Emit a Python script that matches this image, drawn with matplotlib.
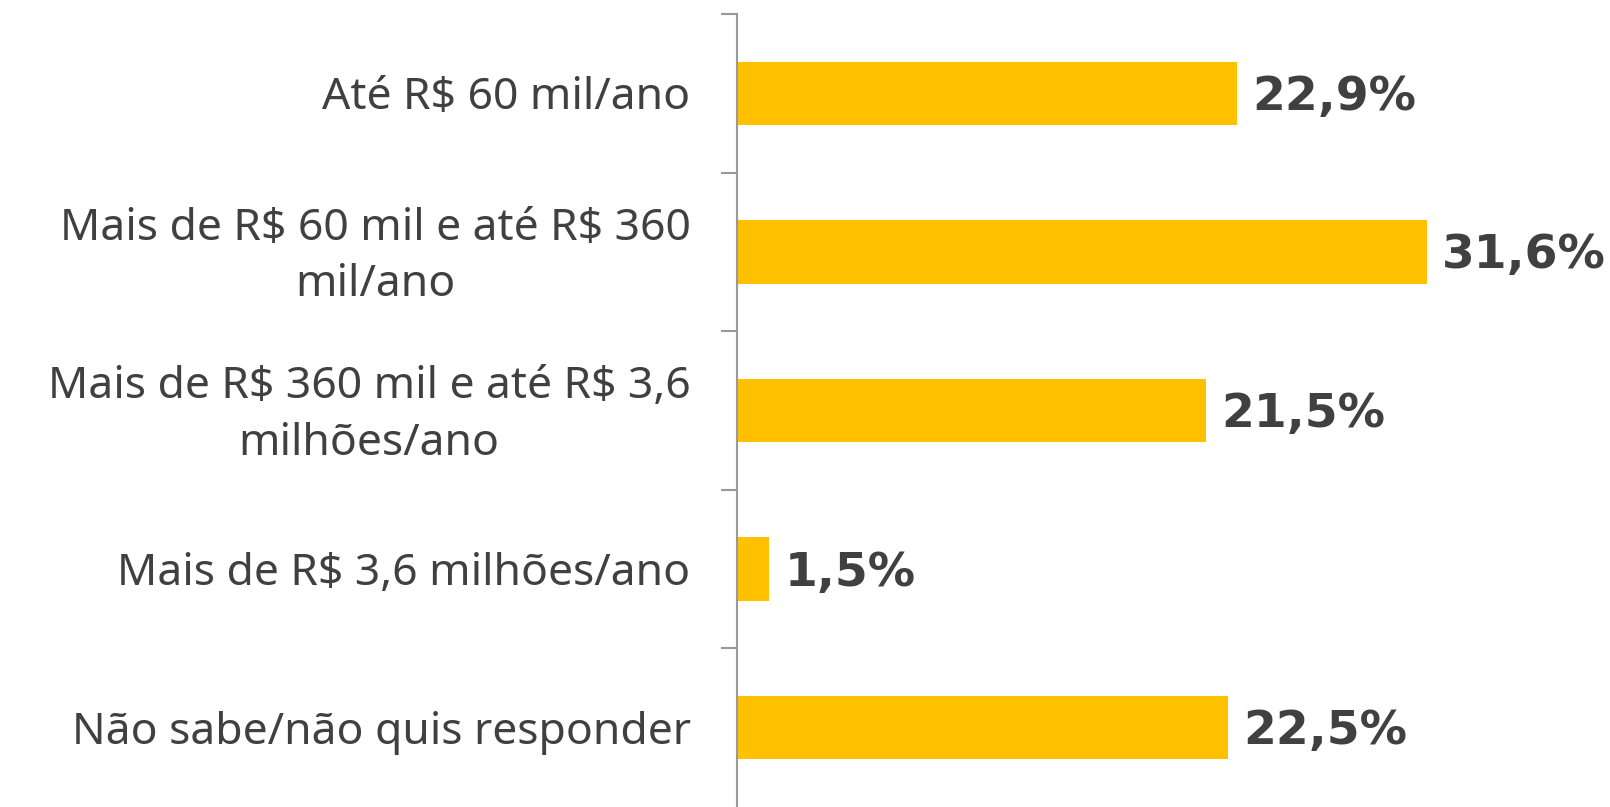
import matplotlib.pyplot as plt
import matplotlib.transforms as mtransforms
import numpy as np

plt.rcParams["text.parse_math"] = False

categories = [
    "Até R$ 60 mil/ano",
    "Mais de R$ 60 mil e até R$ 360\nmil/ano",
    "Mais de R$ 360 mil e até R$ 3,6\nmilhões/ano",
    "Mais de R$ 3,6 milhões/ano",
    "Não sabe/não quis responder",
]
values = [22.9, 31.6, 21.5, 1.5, 22.5]
value_labels = ["22,9%", "31,6%", "21,5%", "1,5%", "22,5%"]

text_color = "#404040"

fig = plt.figure(figsize=(16.1, 8.07), dpi=100)
ax = fig.add_axes([736.5 / 1610, 0, 873.5 / 1610, 793 / 807])

y = np.arange(len(categories))
ax.barh(y, values, height=0.40, color="#FFC000")

for yi, v, lab in zip(y, values, value_labels):
    ax.text(v + 0.7, yi + 0.025, lab, va="center", ha="left", fontsize=34,
            fontweight="bold", color=text_color, family="DejaVu Sans")

ax.set_xlim(0, 40)
ax.set_ylim(len(categories) - 0.5, -0.5)
# boundary ticks between categories (none at the very bottom)
ax.set_yticks(np.arange(len(categories)) - 0.5)
ax.set_yticklabels([])

# category labels, drawn next to the axis
label_tr = ax.get_yaxis_transform() + mtransforms.ScaledTranslation(
    -46 / 100, -5 / 100, fig.dpi_scale_trans)
for yi, cat in zip(y, categories):
    ax.text(0, yi, cat, transform=label_tr, ha="right", va="center",
            multialignment="center", linespacing=1.38, fontsize=32,
            color=text_color, family="Noto Sans", clip_on=False)

ax.tick_params(axis="y", length=11.5, width=1.5, color="#999999")
ax.set_xticks([])
for s in ["top", "right", "bottom"]:
    ax.spines[s].set_visible(False)
ax.spines["left"].set_color("#999999")
ax.spines["left"].set_linewidth(1.5)

plt.savefig("out.png", dpi=100)
